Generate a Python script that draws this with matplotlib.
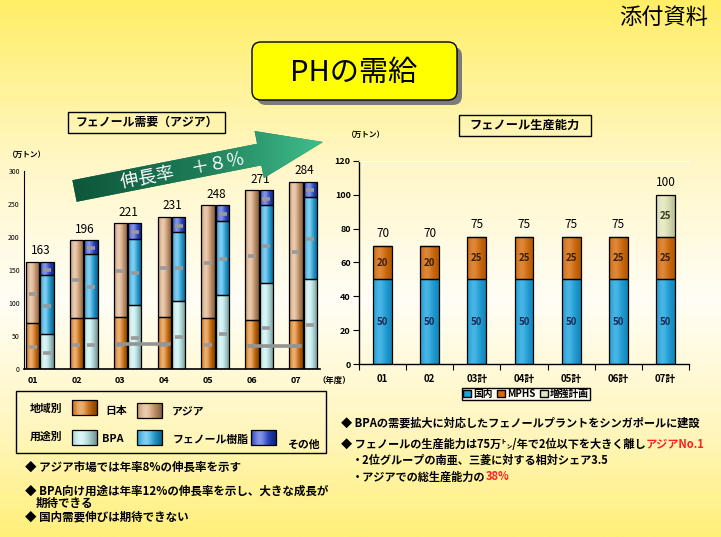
import numpy as np
import matplotlib
matplotlib.use("Agg")
import matplotlib.pyplot as plt
import matplotlib.colors as mcolors
from matplotlib.colors import LinearSegmentedColormap
from matplotlib.patches import Rectangle, Polygon, FancyBboxPatch, Patch

plt.rcParams["font.family"] = ["Noto Sans CJK JP", "DejaVu Sans"]

# ---- フェノール需要（アジア） 万トン ----
years = ["01", "02", "03", "04", "05", "06", "07"]
demand_total = [163, 196, 221, 231, 248, 271, 284]
japan = [70, 77, 79, 79, 77, 75, 75]
asia = [93, 119, 142, 152, 171, 196, 209]
bpa = [54, 78, 98, 103, 112, 130, 137]
resin = [88, 96, 99, 104, 113, 118, 124]
other = [21, 22, 24, 24, 23, 23, 23]
# gray guide lines seen between bars (from, to, value)
guide_lines = [("03", "04", 39), ("06", "07", 36)]

# ---- フェノール生産能力 万トン ----
cap_labels = ["01", "02", "03計", "04計", "05計", "06計", "07計"]
domestic = [50, 50, 50, 50, 50, 50, 50]
mphs = [20, 20, 25, 25, 25, 25, 25]
expansion = [0, 0, 0, 0, 0, 0, 25]
cap_total = [70, 70, 75, 75, 75, 75, 100]

c_japan = "#DC6E00"
c_asia = "#D9A06E"
c_bpa = "#BDEFEF"
c_resin = "#17A6E6"
c_other = "#1E3CD2"
c_dom = "#1AA2DE"
c_mphs = "#D66A06"
c_exp = "#E2E6B6"
red = "#FF2222"

W, H = 721, 537
fig = plt.figure(figsize=(W / 100, H / 100), dpi=100)

# background gradient
bg = fig.add_axes([0, 0, 1, 1], zorder=0)
bg.axis("off")
bgmap = LinearSegmentedColormap.from_list(
    "bg", [(0, "#FFEE66"), (0.3, "#FFF7C6"), (0.56, "#FFFEF6"), (0.8, "#FFF6BE"), (1, "#FFF07A")])
bg.imshow(np.linspace(0, 1, 256)[:, None], cmap=bgmap, aspect="auto")


def shade(ax, patch, color, strength=1.0):
    bb = patch.get_bbox()
    if bb.height == 0:
        return
    rgb = np.array(mcolors.to_rgb(color))
    t = np.linspace(0, 1, 64)
    hl = np.exp(-((t - 0.35) / 0.28) ** 2)
    dark = 1 - 0.4 * strength * (np.abs(t - 0.35) / 0.65) ** 1.5
    cols = rgb[None, :] * dark[:, None]
    cols = cols + (1 - cols) * (0.45 * strength * hl)[:, None]
    im = ax.imshow(cols[None, :, :], extent=[bb.x0, bb.x1, bb.y0, bb.y1],
                   aspect="auto", interpolation="bilinear", zorder=patch.get_zorder() + 0.1)
    im.set_clip_path(patch)


def stacked(ax, xs, series, colors, w, strength):
    bottom = np.zeros(len(xs))
    for vals, col in zip(series, colors):
        vals = np.array(vals, dtype=float)
        bars = ax.bar(xs, vals, w, bottom=bottom, color=col, edgecolor="none", zorder=2)
        for p in bars:
            shade(ax, p, col, strength)
        ax.bar(xs, vals, w, bottom=bottom, fill=False, edgecolor="black", lw=0.9, zorder=3)
        bottom = bottom + vals
    return bottom


# ---------------- left chart ----------------
axL = fig.add_axes([24 / W, 1 - 369.3 / H, 296 / W, (369.3 - 171) / H], zorder=2)
axL.patch.set_alpha(0)
x = np.arange(len(years))
rx = x + 0.195
ux = x + 0.52
stacked(axL, rx, [japan, asia], [c_japan, c_asia], 0.31, 1.0)
stacked(axL, ux, [bpa, resin, other], [c_bpa, c_resin, c_other], 0.31, 1.0)

# little gray marks in the segments
for xs, segs in [(rx, [japan, asia]), (ux, [bpa, resin, other])]:
    base = np.zeros(len(xs))
    for vals in segs:
        vals = np.array(vals, dtype=float)
        axL.plot(xs, base + vals / 2 - 2, ls="none", marker="_", ms=6, mew=2.6,
                 color="#9A9A9A", zorder=4)
        base = base + vals
for a, b, v in guide_lines:
    i, j = years.index(a), years.index(b)
    axL.plot([rx[i] - 0.08, rx[j] + 0.1], [v, v], color="#949494", lw=2.6, zorder=4)

for xi, t in zip(x, demand_total):
    axL.annotate(str(t), (xi + 0.38, t), xytext=(0, 3), textcoords="offset points",
                 ha="center", va="bottom", fontsize=8.5, zorder=5)

axL.set_xlim(0, 6.74)
axL.set_ylim(0, 300)
axL.set_yticks(range(0, 301, 50))
axL.tick_params(axis="y", labelsize=5, length=0, pad=3)
axL.set_xticks(rx)
axL.set_xticklabels(years, fontsize=6.5, fontweight="bold")
axL.tick_params(axis="x", length=0, pad=5)
for s in ["top", "right"]:
    axL.spines[s].set_visible(False)
axL.spines["left"].set_linewidth(0.8)
axL.spines["bottom"].set_linewidth(1.2)

# ---------------- right chart ----------------
axR = fig.add_axes([359 / W, 1 - 364.3 / H, 330 / W, (364.3 - 160.7) / H], zorder=2)
axR.patch.set_alpha(0)
xr = np.arange(len(cap_labels))
stacked(axR, xr, [domestic, mphs, expansion], [c_dom, c_mphs, c_exp], 0.4, 0.45)
base = np.zeros(len(xr))
for vals, tc in [(domestic, "#1A2A58"), (mphs, "#3A1E00"), (expansion, "#3A3A20")]:
    for xi, b, v in zip(xr, base, vals):
        if v > 0:
            axR.text(xi, b + v / 2, str(v), ha="center", va="center", fontsize=7,
                     fontweight="bold", color=tc, zorder=5)
    base = base + np.array(vals)
for xi, t in zip(xr, cap_total):
    axR.annotate(str(t), (xi, t), xytext=(0, 4), textcoords="offset points",
                 ha="center", va="bottom", fontsize=8.5, zorder=5)

axR.set_xlim(-0.5, 6.5)
axR.set_ylim(0, 120)
axR.set_yticks(range(0, 121, 20))
axR.tick_params(axis="y", labelsize=6.5, length=4, width=0.8, pad=2)
for lab in axR.get_yticklabels():
    lab.set_fontweight("bold")
axR.set_xticks(xr)
axR.set_xticklabels(cap_labels, fontsize=7, fontweight="bold")
axR.set_xticks(np.arange(-0.5, 7, 1), minor=True)
axR.tick_params(axis="x", which="major", length=0, pad=7)
axR.tick_params(axis="x", which="minor", length=4, width=0.8)
axR.spines["right"].set_visible(False)
axR.spines["top"].set_color("white")
axR.spines["left"].set_linewidth(1.0)
axR.spines["bottom"].set_linewidth(1.0)

fig.legend([Patch(fc=c_dom, ec="black"), Patch(fc=c_mphs, ec="black"), Patch(fc=c_exp, ec="black")],
           ["国内", "MPHS", "増強計画"], loc="center", bbox_to_anchor=(526 / W, 1 - 394 / H),
           ncol=3, prop={"size": 7, "weight": "bold"}, frameon=True, fancybox=False,
           edgecolor="black", facecolor="#FFFDF2", framealpha=1, handlelength=0.8,
           handleheight=0.8, handletextpad=0.2, columnspacing=0.5, borderpad=0.15,
           borderaxespad=0)

# ---------------- overlay (pixel coordinates) ----------------
ov = fig.add_axes([0, 0, 1, 1], zorder=3)
ov.patch.set_alpha(0)
ov.set_xlim(0, W)
ov.set_ylim(H, 0)
ov.set_autoscale_on(False)
ov.axis("off")

ov.text(664, 18, "添付資料", fontsize=16, ha="center", va="center")

# title box
ov.add_patch(FancyBboxPatch((257, 47), 205, 58, boxstyle="round,pad=0,rounding_size=9",
                            fc="#7C7C7C", ec="none"))
ov.add_patch(FancyBboxPatch((252, 42), 205, 58, boxstyle="round,pad=0,rounding_size=9",
                            fc="#FFFF00", ec="black", lw=1))
ov.text(354, 73, "PHの需給", fontsize=21, ha="center", va="center")

ov.add_patch(Rectangle((68, 112), 157, 21, fill=False, ec="black", lw=1))
ov.text(146.5, 122.5, "フェノール需要（アジア）", fontsize=8.6, fontweight="bold",
        ha="center", va="center")
ov.add_patch(Rectangle((459, 115), 132, 21, fill=False, ec="black", lw=1))
ov.text(525, 125.5, "フェノール生産能力", fontsize=8.8, fontweight="bold",
        ha="center", va="center")
ov.text(27, 154, "（万トン）", fontsize=5.5, fontweight="bold", ha="center", va="center")
ov.text(366, 134, "（万トン）", fontsize=5.5, fontweight="bold", ha="center", va="center")
ov.text(334, 380, "（年度）", fontsize=6, fontweight="bold", ha="center", va="center")

# growth arrow
tail = np.array([74.5, 191.0])
tip = np.array([323.0, 142.0])
L = np.hypot(*(tip - tail))
d = (tip - tail) / L
n = np.array([d[1], -d[0]])
neck = tail + d * (L - 65)
pts = [tail + n * 11, neck + n * 11, neck + n * 24, tip, neck - n * 24, neck - n * 11, tail - n * 11]
arrow = Polygon(pts, closed=True, fc="#1F7A55", ec="none")
ov.add_patch(arrow)
amap = LinearSegmentedColormap.from_list("ar", ["#0D553A", "#1E7C57", "#42C28F"])
im = ov.imshow(np.linspace(0, 1, 128)[None, :], cmap=amap, extent=[70, 330, 210, 125],
               aspect="auto", interpolation="bilinear", zorder=2)
im.set_clip_path(arrow)
ov.text(183, 170, "伸長率　＋８％", fontsize=13, color="white", rotation=11,
        ha="center", va="center", rotation_mode="anchor", zorder=3)

# left legend box
ov.add_patch(Rectangle((16, 391), 310, 62, fill=False, ec="black", lw=1))
legend_items = [
    ("地域別", 30, 409, None),
    ("日本", 105, 411, (72, 400, c_japan)),
    ("アジア", 172, 412, (137, 403, c_asia)),
    ("用途別", 30, 437, None),
    ("BPA", 102, 439, (72, 430, c_bpa)),
    ("フェノール樹脂", 173, 440, (137, 430, c_resin)),
    ("その他", 287, 445, (251, 430, c_other)),
]
for label, tx, ty, sw in legend_items:
    if sw is not None:
        r = Rectangle((sw[0], sw[1]), 25, 15, fc=sw[2], ec="none", zorder=2)
        ov.add_patch(r)
        shade(ov, r, sw[2], 1.0)
        ov.add_patch(Rectangle((sw[0], sw[1]), 25, 15, fill=False, ec="black", lw=0.9, zorder=3))
    ov.text(tx, ty, label, fontsize=7.8, fontweight="bold", ha="left", va="center")

# bullet texts
fig.canvas.draw()
renderer = fig.canvas.get_renderer()


def runs(x0, y0, parts, size=8.2):
    xx = x0
    for s, c in parts:
        t = ov.text(xx, y0, s, color=c, fontsize=size, fontweight="bold", ha="left", va="center")
        xx += t.get_window_extent(renderer).width


runs(25, 467, [("◆ アジア市場では年率8%の伸長率を示す", "black")], 8.3)
runs(25, 491, [("◆ BPA向け用途は年率12%の伸長率を示し、大きな成長が", "black")], 8.3)
runs(36, 503, [("期待できる", "black")], 8.3)
runs(25, 517, [("◆ 国内需要伸びは期待できない", "black")], 8.3)
runs(341, 423, [("◆ BPAの需要拡大に対応したフェノールプラントをシンガポールに建設", "black")], 8.05)
runs(341, 444, [("◆ フェノールの生産能力は75万㌧/年で2位以下を大きく離し", "black"),
                ("アジアNo.1", red)], 8.05)
runs(352, 460, [("・2位グループの南亜、三菱に対する相対シェア3.5", "black")], 8.05)
runs(352, 477, [("・アジアでの総生産能力の", "black"), ("38%", red)], 8.05)

fig.savefig("out.png", dpi=100)
